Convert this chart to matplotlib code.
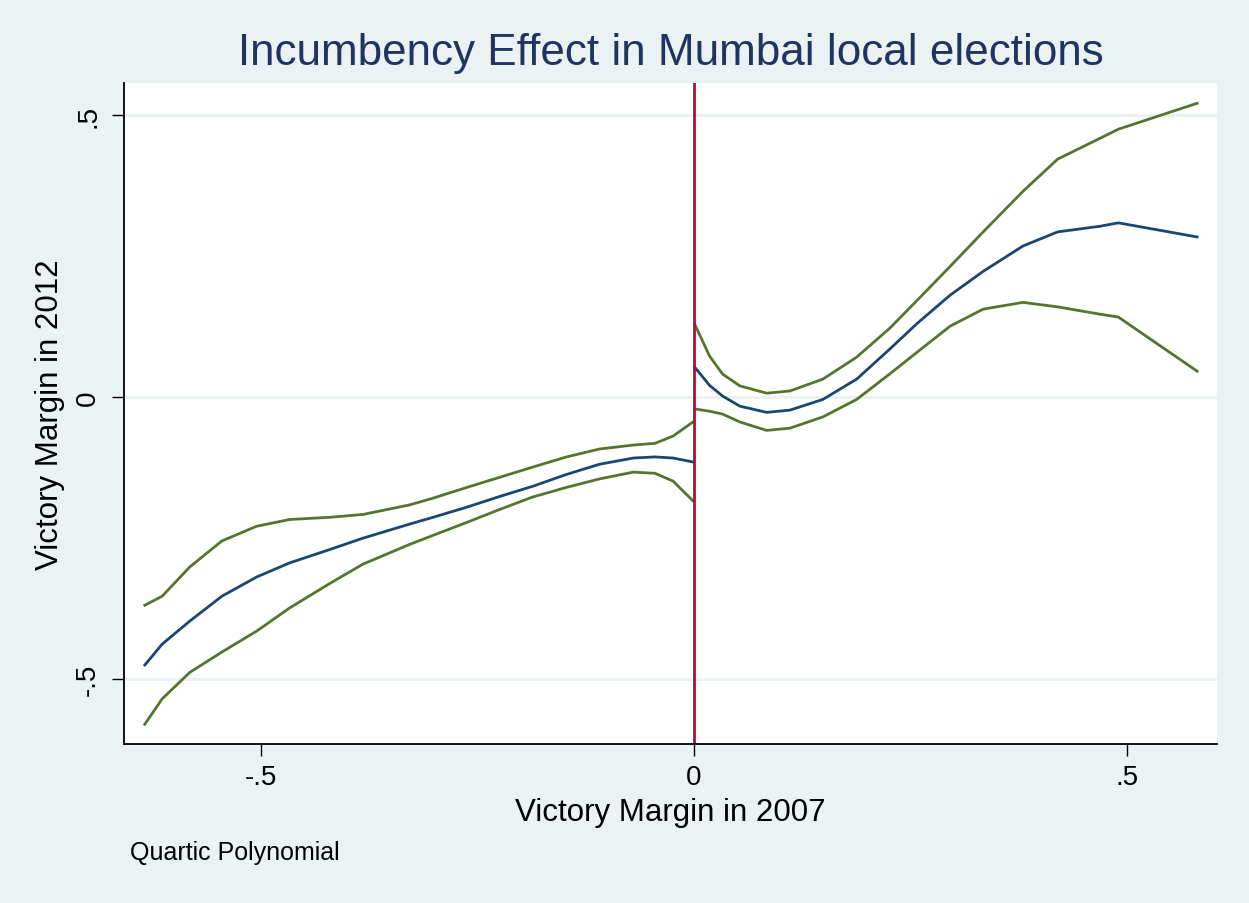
"""
Incumbency effect in Mumbai local elections: quartic fit with confidence band.
"""

import matplotlib
matplotlib.use('Agg')
import matplotlib.pyplot as plt
import numpy as np

# left of the cutoff (victory margin 2007 < 0)
xLeft = [-0.634, -0.614, -0.582, -0.545, -0.505, -0.467, -0.420, -0.382, -0.328,
         -0.301, -0.262, -0.224, -0.186, -0.147, -0.109, -0.070, -0.045, -0.024,
         -0.001]
hiLeft = [-0.369, -0.353, -0.301, -0.255, -0.229, -0.217, -0.213, -0.208, -0.191,
          -0.179, -0.160, -0.142, -0.124, -0.106, -0.092, -0.085, -0.082, -0.069,
          -0.044]
fitLeft = [-0.475, -0.438, -0.397, -0.353, -0.319, -0.294, -0.270, -0.250, -0.225,
           -0.213, -0.195, -0.176, -0.158, -0.137, -0.119, -0.108, -0.106, -0.108,
           -0.115]
loLeft = [-0.580, -0.535, -0.488, -0.452, -0.415, -0.374, -0.330, -0.296, -0.261,
          -0.245, -0.222, -0.199, -0.177, -0.160, -0.145, -0.133, -0.135, -0.149,
          -0.184]

# right of the cutoff
xRight = [0.001, 0.018, 0.033, 0.053, 0.084, 0.111, 0.149, 0.188, 0.226, 0.258,
          0.296, 0.334, 0.380, 0.420, 0.469, 0.490, 0.581]
hiRight = [0.129, 0.073, 0.041, 0.020, 0.007, 0.011, 0.032, 0.071, 0.122, 0.172,
           0.232, 0.293, 0.365, 0.422, 0.459, 0.475, 0.521]
fitRight = [0.053, 0.021, 0.002, -0.016, -0.027, -0.023, -0.004, 0.032, 0.085, 0.131,
            0.181, 0.223, 0.268, 0.293, 0.303, 0.309, 0.284]
loRight = [-0.021, -0.025, -0.030, -0.044, -0.059, -0.055, -0.035, -0.004, 0.041, 0.080,
           0.126, 0.156, 0.168, 0.160, 0.147, 0.142, 0.046]

yTicks = [-0.5, 0, 0.5]
yTickLabels = ['-.5', '0', '.5']
xTicks = [-0.5, 0, 0.5]
xTickLabels = ['-.5', '0', '.5']

BG = '#EAF2F3'
NAVY = '#1A476F'
GREEN = '#55752F'
RED = '#C10534'

plt.rcParams['font.family'] = ['Liberation Sans', 'DejaVu Sans']

fig = plt.figure(figsize=(12.49, 9.04), dpi=100)
fig.patch.set_facecolor(BG)
ax = fig.add_axes([0.0993, 0.1759, 0.8751, 0.7312])
ax.set_facecolor('white')

for y in yTicks:
    ax.axhline(y, color=BG, lw=2, zorder=0)

ax.plot(xLeft, hiLeft, color=GREEN, lw=2)
ax.plot(xLeft, loLeft, color=GREEN, lw=2)
ax.plot(xLeft, fitLeft, color=NAVY, lw=2)
ax.plot(xRight, hiRight, color=GREEN, lw=2)
ax.plot(xRight, loRight, color=GREEN, lw=2)
ax.plot(xRight, fitRight, color=NAVY, lw=2)
ax.axvline(0, color=RED, lw=2)

ax.set_xlim(-0.658, 0.604)
ax.set_ylim(-0.615, 0.557)

ax.spines['top'].set_visible(False)
ax.spines['right'].set_visible(False)
for s in ['left', 'bottom']:
    ax.spines[s].set_linewidth(1.3)

ax.set_xticks(xTicks)
ax.set_xticklabels(xTickLabels)
ax.set_yticks(yTicks)
ax.set_yticklabels(yTickLabels, rotation=90, va='center')
ax.tick_params(direction='out', length=8.5, width=1, labelsize=20, pad=6)
ax.tick_params(axis='y', pad=8)

ax.set_xlabel('Victory Margin in 2007', fontsize=22.5, labelpad=5)
ax.set_ylabel('Victory Margin in 2012', fontsize=22.5, labelpad=7)
ax.set_title('Incumbency Effect in Mumbai local elections', fontsize=31.7,
             color='#1F3461', pad=14)

fig.text(0.104, 0.056, 'Quartic Polynomial', fontsize=18, va='center', ha='left')

plt.savefig('out.png', dpi=100, facecolor=BG)
